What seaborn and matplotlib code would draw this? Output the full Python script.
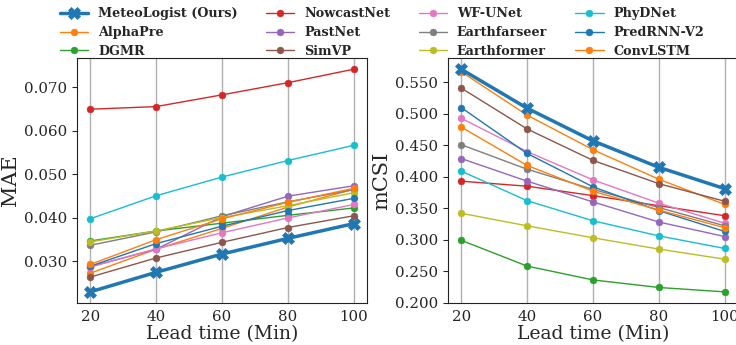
import matplotlib
matplotlib.use("Agg")
import matplotlib.pyplot as plt
import pandas as pd
import seaborn as sns

lead_time = [20, 40, 60, 80, 100]
models = [
    "MeteoLogist (Ours)", "AlphaPre", "DGMR", "NowcastNet", "PastNet", "SimVP",
    "WF-UNet", "Earthfarseer", "Earthformer", "PhyDNet", "PredRNN-V2", "ConvLSTM",
]

mae = {
    "MeteoLogist (Ours)": [0.0230, 0.0275, 0.0317, 0.0353, 0.0387],
    "AlphaPre": [0.0273, 0.0328, 0.0376, 0.0425, 0.0466],
    "DGMR": [0.0347, 0.0370, 0.0388, 0.0406, 0.0423],
    "NowcastNet": [0.0650, 0.0656, 0.0683, 0.0711, 0.0742],
    "PastNet": [0.0288, 0.0328, 0.0403, 0.0450, 0.0474],
    "SimVP": [0.0264, 0.0308, 0.0344, 0.0378, 0.0405],
    "WF-UNet": [0.0287, 0.0329, 0.0366, 0.0400, 0.0431],
    "Earthfarseer": [0.0337, 0.0368, 0.0405, 0.0437, 0.0465],
    "Earthformer": [0.0345, 0.0370, 0.0401, 0.0428, 0.0458],
    "PhyDNet": [0.0398, 0.0451, 0.0494, 0.0532, 0.0567],
    "PredRNN-V2": [0.0289, 0.0341, 0.0381, 0.0417, 0.0445],
    "ConvLSTM": [0.0293, 0.0350, 0.0398, 0.0436, 0.0468],
}

mcsi = {
    "MeteoLogist (Ours)": [0.571, 0.509, 0.457, 0.415, 0.381],
    "AlphaPre": [0.567, 0.498, 0.443, 0.396, 0.356],
    "DGMR": [0.299, 0.258, 0.236, 0.224, 0.217],
    "NowcastNet": [0.393, 0.385, 0.370, 0.354, 0.338],
    "PastNet": [0.429, 0.393, 0.360, 0.328, 0.305],
    "SimVP": [0.541, 0.476, 0.426, 0.389, 0.361],
    "WF-UNet": [0.493, 0.440, 0.395, 0.358, 0.326],
    "Earthfarseer": [0.451, 0.412, 0.380, 0.351, 0.322],
    "Earthformer": [0.342, 0.322, 0.303, 0.285, 0.269],
    "PhyDNet": [0.409, 0.362, 0.330, 0.306, 0.286],
    "PredRNN-V2": [0.510, 0.437, 0.384, 0.346, 0.313],
    "ConvLSTM": [0.479, 0.418, 0.377, 0.347, 0.319],
}

sns.set_style("ticks")
plt.rcParams["font.family"] = "DejaVu Serif"

palette = sns.color_palette("tab10", 10)
colors = {m: palette[i % 10] for i, m in enumerate(models)}

fig = plt.figure(figsize=(7.36, 3.45), dpi=100)
ax1 = fig.add_axes([0.1046, 0.1217, 0.394, 0.710])
ax2 = fig.add_axes([0.6087, 0.1217, 0.394, 0.710])


def draw(ax, data, ylabel):
    for m in models:
        df = pd.DataFrame({"lead": lead_time, "val": data[m]})
        if m.startswith("MeteoLogist"):
            sns.lineplot(data=df, x="lead", y="val", ax=ax, color=colors[m],
                         marker="X", markersize=8, linewidth=2.5,
                         markeredgecolor=colors[m], markeredgewidth=0.5,
                         label=m, zorder=5)
        else:
            sns.lineplot(data=df, x="lead", y="val", ax=ax, color=colors[m],
                         marker="o", markersize=5, linewidth=1,
                         markeredgecolor=colors[m], markeredgewidth=0.3, label=m)
    ax.set_xticks(lead_time)
    ax.grid(axis="x", color="#b0b0b0", linewidth=1)
    ax.set_xlabel("Lead time (Min)", fontsize=13.5, labelpad=1)
    ax.set_ylabel(ylabel, fontsize=15, labelpad=3)
    ax.yaxis.set_major_formatter(matplotlib.ticker.FormatStrFormatter("%.3f"))
    ax.tick_params(labelsize=10.8, length=3.5)
    ax.tick_params(axis="x", length=0, pad=5)
    for s in ax.spines.values():
        s.set_visible(True)
        s.set_color("#222222")
    ax.get_legend().remove()


draw(ax1, mae, "MAE")
draw(ax2, mcsi, "mCSI")
ax1.set_yticks([0.030, 0.040, 0.050, 0.060, 0.070])
ax2.set_yticks([0.200, 0.250, 0.300, 0.350, 0.400, 0.450, 0.500, 0.550])

handles, labels = ax1.get_legend_handles_labels()
fig.legend(handles, labels, ncol=4, loc="upper left", bbox_to_anchor=(0.066, 1.012),
           frameon=False, prop={"family": "DejaVu Serif", "weight": "bold", "size": 9.2},
           handlelength=2.2, columnspacing=2.2, labelspacing=0.45, handletextpad=0.8)

fig.savefig("out.png", dpi=100)
